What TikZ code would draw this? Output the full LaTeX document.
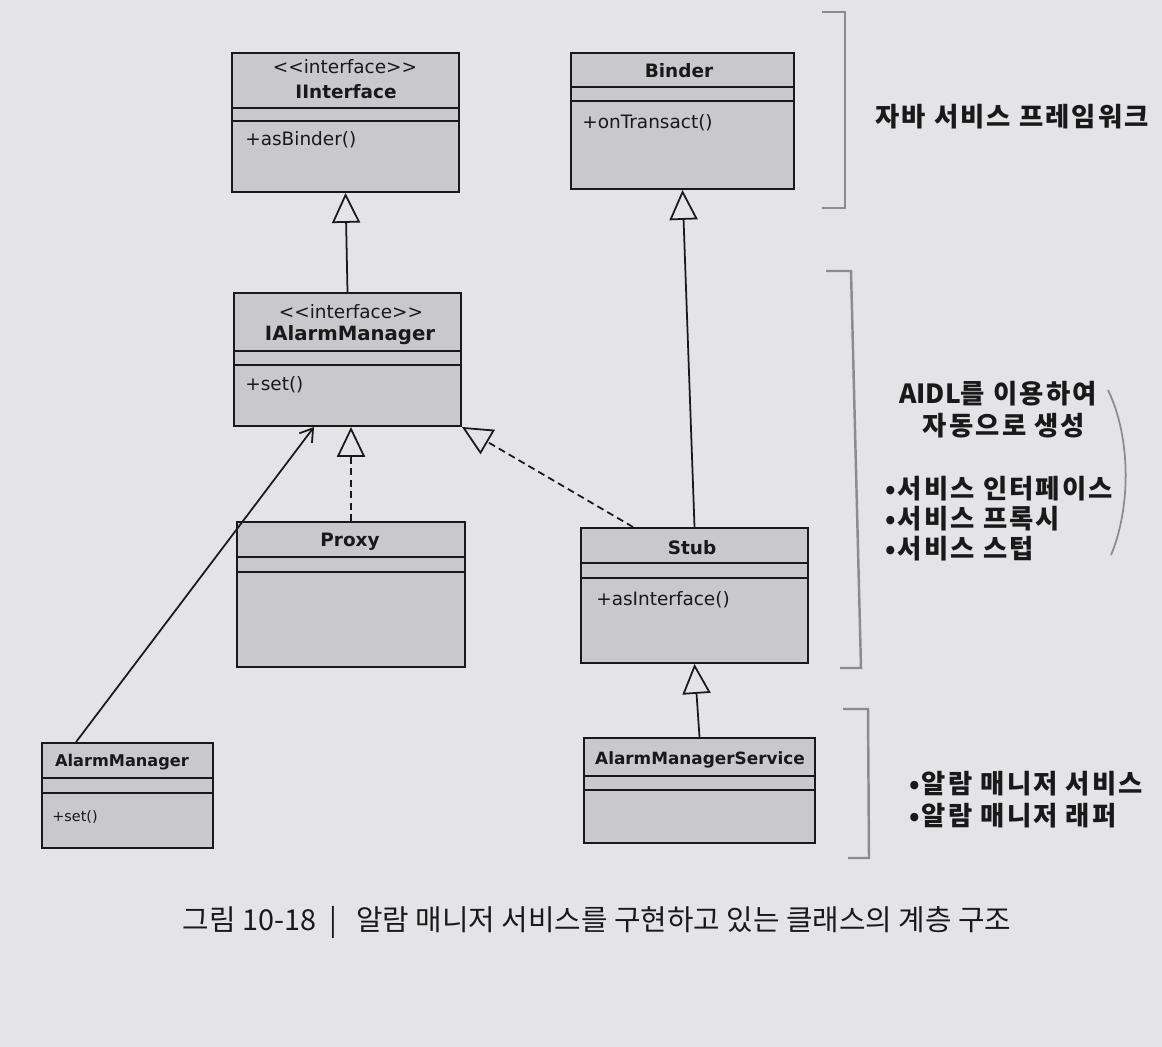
\documentclass[tikz,border=0pt]{standalone}
\usepackage{fontspec}
\setmainfont{DejaVu Sans}
\newfontfamily\krfont{Noto Sans CJK KR}
\newfontfamily\krlab[LetterSpace=8]{Noto Sans CJK KR}
\usetikzlibrary{arrows.meta,calc,fit}
\definecolor{bg}{RGB}{228,228,231}
\definecolor{boxfill}{RGB}{201,201,205}
\definecolor{ink}{RGB}{25,25,25}
\definecolor{brk}{RGB}{140,140,143}
\newcommand\umlclass[7]{%
  \node[cls, fit={(#2,#3) (#4,#5)}] (#1) {};
  \draw[sepline] (#2,#6) -- (#4,#6);
  \draw[sepline] (#2,#7) -- (#4,#7);
}
\begin{document}
\begin{tikzpicture}[x=0.02cm,y=-0.02cm,
  cls/.style={draw=ink, fill=boxfill, line width=1.1pt, inner sep=0pt},
  sepline/.style={draw=ink, line width=1.1pt},
  txt/.style={inner sep=0pt, text=ink, font=\fontsize{10.5}{12}\selectfont},
  ttl/.style={inner sep=0pt, text=ink, font=\fontsize{10.5}{12}\selectfont\bfseries},
  gen/.style={draw=ink, line width=1pt, -{Triangle[length=17pt, width=16pt, fill=bg]}},
  dashline/.style={dash pattern=on 4pt off 2.5pt},
  dep/.style={draw=ink, line width=1pt, -{Straight Barb[length=7pt, width=9pt]}},
  bracket/.style={draw=brk, line width=1.4pt},
  kr/.style={inner sep=0pt, text=ink, font=\krlab\fontsize{15}{18}\selectfont\bfseries},
  krcap/.style={inner sep=0pt, text=ink, font=\krfont\fontsize{16.4}{19}\selectfont}
]
\fill[bg] (0,0) rectangle (1162,1047);

% classes
\umlclass{iinterface}{232}{53}{459}{192}{108}{121}
\umlclass{binder}{571}{53}{794}{189}{87}{101}
\umlclass{ialarm}{234}{293}{461}{426}{351}{365}
\umlclass{proxy}{237}{522}{465}{667}{557}{572}
\umlclass{stub}{581}{528}{808}{663}{563}{578}
\umlclass{alarmmgr}{42}{743}{213}{848}{778}{793}
\umlclass{ams}{584}{738}{815}{843}{776}{790}

% class texts
\node[txt] (iistereo) at (345,67) {<{}<interface>{}>};
\node[ttl] (iiname) at (346,92) {IInterface};
\node[txt, anchor=west] (iiop) at (245,140) {+asBinder()};
\node[ttl] (bname) at (679,71) {Binder};
\node[txt, anchor=west] (bop) at (582,123) {+onTransact()};
\node[txt] (iastereo) at (351,312) {<{}<interface>{}>};
\node[ttl, font=\fontsize{11.2}{13}\selectfont\bfseries] (ianame) at (350,335) {IAlarmManager};
\node[txt, anchor=west] (iaop) at (245,385) {+set()};
\node[ttl] (pname) at (350,542) {Proxy};
\node[ttl] (sname) at (692,548) {Stub};
\node[txt, anchor=west] (sop) at (596,600) {+asInterface()};
\node[ttl, font=\fontsize{9.2}{11}\selectfont\bfseries] (amname) at (122,762) {AlarmManager};
\node[txt, anchor=west, font=\fontsize{8.2}{10}\selectfont] (amop) at (52,817) {+set()};
\node[ttl, font=\fontsize{9.6}{11}\selectfont\bfseries] (amsname) at (700,760) {AlarmManagerService};

% connectors
\draw[gen] (ialarm.north) -- (iinterface.south);
\draw[gen] (stub.north) -- (binder.south);
\draw[gen, dashline] (proxy.north) -- (proxy.north |- ialarm.south);
\draw[gen, dashline] ($(stub.north west)+(53,0)$) -- (ialarm.south east);
\draw[dep] ($(alarmmgr.north west)+(35,0)$) -- ($(ialarm.south west)+(81,0)$);
\draw[gen] (ams.north) -- (stub.south);

% brackets
\draw[bracket] (822,12) -- (845,12) -- (845,208) -- (822,208);
\draw[bracket] (826,271) -- (851,271) -- (861,668) -- (840,668);
\draw[bracket] (843,709) -- (868,709) -- (869,858) -- (848,858);
\draw[draw=brk, line width=1pt] (1108,390) .. controls (1132,440) and (1130,510) .. (1111,555);

% labels
\node[kr] (lab1) at (1012,117) {자바 서비스 프레임워크};
\node[kr] (lab2) at (998,394) {{\krfont\bfseries AIDL}를 이용하여};
\node[kr] (lab3) at (1004,426) {자동으로 생성};
\node[kr, anchor=west] (lab4) at (885,489) {•서비스 인터페이스};
\node[kr, anchor=west] (lab5) at (885,519) {•서비스 프록시};
\node[kr, anchor=west] (lab6) at (885,549) {•서비스 스텁};
\node[kr, anchor=west] (lab7) at (909,784) {•알람 매니저 서비스};
\node[kr, anchor=west] (lab8) at (909,816) {•알람 매니저 래퍼};
\node[krcap] (cap) at (597,922) {그림 10-18 \ | \ \ 알람 매니저 서비스를 구현하고 있는 클래스의 계층 구조};
\end{tikzpicture}
\end{document}
